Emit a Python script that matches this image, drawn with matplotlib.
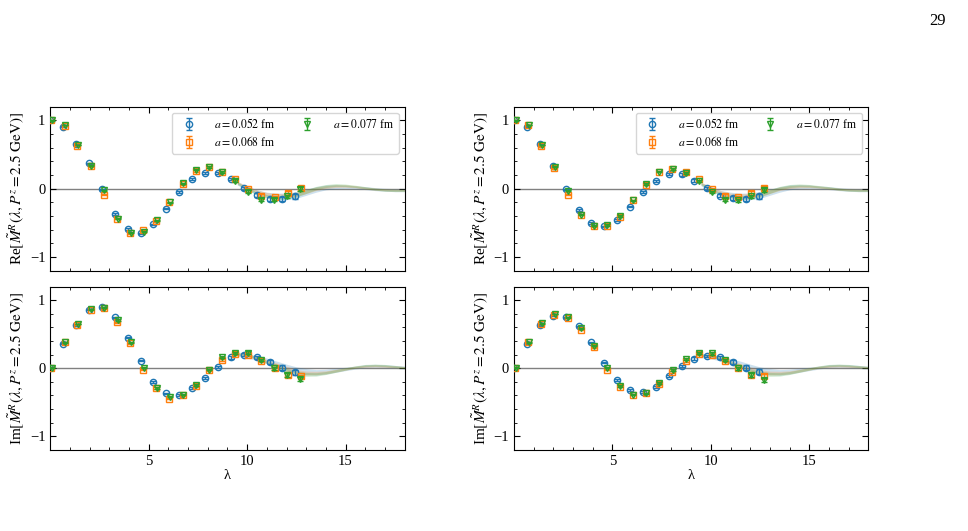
import numpy as np
import matplotlib
matplotlib.use("Agg")
import matplotlib.pyplot as plt

plt.rcParams['font.family'] = ['Liberation Serif', 'DejaVu Serif']
plt.rcParams['mathtext.fontset'] = 'stix'

# lattice spacings / legend labels
labels = [r'$a = 0.052$ fm', r'$a = 0.068$ fm', r'$a = 0.077$ fm']
colors = ['#1f77b4', '#ff7f0e', '#2ca02c']
markers = ['o', 's', 'v']

# lambda positions of each ensemble
lam_052 = [0.0, 0.66, 1.31, 1.97, 2.62, 3.28, 3.93, 4.59, 5.24, 5.9,
           6.55, 7.21, 7.86, 8.52, 9.17, 9.83, 10.48, 11.14, 11.79, 12.45]
lam_068 = [0.05, 0.72, 1.38, 2.05, 2.72, 3.39, 4.05, 4.72, 5.39, 6.05,
           6.72, 7.39, 8.05, 8.72, 9.39, 10.06, 10.72, 11.39, 12.06, 12.72]
lam_077 = [0.1, 0.76, 1.43, 2.09, 2.75, 3.42, 4.08, 4.74, 5.4, 6.07,
           6.73, 7.39, 8.06, 8.72, 9.38, 10.05, 10.71, 11.37, 12.03, 12.7]

# errors
err_052 = [0.003, 0.005, 0.006, 0.007, 0.008, 0.009, 0.01, 0.01, 0.011, 0.012,
           0.013, 0.014, 0.015, 0.017, 0.019, 0.021, 0.024, 0.028, 0.032, 0.038]
err_068 = [0.002, 0.004, 0.005, 0.006, 0.007, 0.008, 0.008, 0.009, 0.01, 0.01,
           0.011, 0.012, 0.013, 0.014, 0.015, 0.017, 0.019, 0.021, 0.024, 0.027]
err_077 = [0.002, 0.004, 0.005, 0.006, 0.007, 0.008, 0.008, 0.009, 0.01, 0.01,
           0.011, 0.012, 0.013, 0.014, 0.016, 0.018, 0.02, 0.022, 0.025, 0.028]

# left column, real part
re_L_052 = [1.0, 0.91, 0.66, 0.37, -0.01, -0.37, -0.59, -0.65, -0.52, -0.29,
            -0.05, 0.14, 0.235, 0.23, 0.14, 0.01, -0.09, -0.15, -0.15, -0.11]
re_L_068 = [1.0, 0.92, 0.63, 0.33, -0.09, -0.44, -0.65, -0.61, -0.47, -0.2,
            0.07, 0.26, 0.32, 0.25, 0.14, 0.0, -0.1, -0.12, -0.06, 0.01]
re_L_077 = [1.0, 0.93, 0.64, 0.34, -0.02, -0.44, -0.64, -0.63, -0.46, -0.2,
            0.08, 0.28, 0.32, 0.25, 0.12, -0.04, -0.16, -0.16, -0.11, 0.0]
# left column, imaginary part
im_L_052 = [0.0, 0.36, 0.63, 0.86, 0.9, 0.75, 0.45, 0.11, -0.2, -0.37,
            -0.39, -0.29, -0.14, 0.02, 0.16, 0.2, 0.16, 0.09, 0.01, -0.06]
im_L_068 = [0.0, 0.38, 0.64, 0.86, 0.88, 0.68, 0.37, -0.02, -0.29, -0.45,
            -0.4, -0.26, -0.03, 0.12, 0.21, 0.2, 0.11, 0.0, -0.1, -0.12]
im_L_077 = [0.01, 0.38, 0.65, 0.87, 0.89, 0.71, 0.38, 0.01, -0.29, -0.42,
            -0.39, -0.25, -0.02, 0.16, 0.23, 0.23, 0.12, 0.0, -0.1, -0.16]
# right column, real part
re_R_052 = [1.0, 0.91, 0.66, 0.33, -0.01, -0.31, -0.5, -0.55, -0.46, -0.26,
            -0.05, 0.12, 0.21, 0.21, 0.12, 0.01, -0.1, -0.13, -0.15, -0.11]
re_R_068 = [1.0, 0.93, 0.62, 0.3, -0.09, -0.38, -0.55, -0.54, -0.41, -0.17,
            0.06, 0.25, 0.29, 0.25, 0.14, 0.0, -0.1, -0.12, -0.06, 0.01]
re_R_077 = [1.0, 0.93, 0.64, 0.32, -0.03, -0.38, -0.54, -0.53, -0.4, -0.17,
            0.07, 0.25, 0.29, 0.23, 0.11, -0.05, -0.16, -0.17, -0.11, -0.02]
# right column, imaginary part
im_R_052 = [0.0, 0.36, 0.63, 0.77, 0.75, 0.62, 0.38, 0.08, -0.17, -0.32,
            -0.35, -0.27, -0.12, 0.03, 0.14, 0.18, 0.16, 0.09, 0.01, -0.05]
im_R_068 = [0.01, 0.38, 0.65, 0.79, 0.74, 0.57, 0.31, -0.02, -0.27, -0.39,
            -0.37, -0.23, -0.05, 0.11, 0.21, 0.2, 0.11, 0.0, -0.1, -0.11]
im_R_077 = [0.01, 0.38, 0.66, 0.8, 0.75, 0.59, 0.33, 0.01, -0.26, -0.39,
            -0.37, -0.22, -0.03, 0.14, 0.23, 0.22, 0.12, 0.0, -0.1, -0.17]

# extrapolated bands
lam_band = [9.5, 10.0, 10.5, 11.0, 11.5, 12.0, 12.5, 13.0, 13.5,
            14.0, 14.5, 15.0, 15.5, 16.0, 16.5, 17.0, 17.5, 18.0]
bw_052 = [0.025, 0.03, 0.035, 0.04, 0.045, 0.05, 0.05, 0.045, 0.04,
          0.035, 0.03, 0.025, 0.022, 0.022, 0.022, 0.022, 0.022, 0.022]
bw_068 = [0.018, 0.02, 0.022, 0.025, 0.028, 0.03, 0.03, 0.028, 0.025,
          0.022, 0.02, 0.018, 0.016, 0.016, 0.016, 0.016, 0.016, 0.016]
bw_077 = [0.018, 0.02, 0.022, 0.025, 0.028, 0.03, 0.03, 0.028, 0.025,
          0.022, 0.02, 0.018, 0.016, 0.016, 0.016, 0.016, 0.016, 0.016]

bre_L_052 = [0.08, 0.01, -0.05, -0.09, -0.11, -0.11, -0.09, -0.05, -0.01,
             0.02, 0.03, 0.03, 0.02, 0.01, -0.005, -0.015, -0.02, -0.02]
bre_L_068 = [0.09, 0.02, -0.04, -0.08, -0.1, -0.1, -0.08, -0.04, 0.0,
             0.025, 0.04, 0.04, 0.03, 0.01, -0.005, -0.015, -0.02, -0.02]
bre_L_077 = [0.08, 0.0, -0.07, -0.11, -0.13, -0.12, -0.09, -0.04, 0.01,
             0.04, 0.055, 0.05, 0.035, 0.015, -0.005, -0.02, -0.025, -0.025]
bim_L_052 = [0.2, 0.18, 0.15, 0.11, 0.06, 0.01, -0.03, -0.05, -0.06,
             -0.05, -0.03, -0.01, 0.01, 0.03, 0.035, 0.03, 0.02, 0.01]
bim_L_068 = [0.21, 0.19, 0.15, 0.1, 0.05, 0.0, -0.05, -0.07, -0.07,
             -0.06, -0.035, -0.01, 0.015, 0.03, 0.035, 0.03, 0.02, 0.01]
bim_L_077 = [0.22, 0.2, 0.15, 0.09, 0.03, -0.03, -0.07, -0.09, -0.09,
             -0.07, -0.04, -0.01, 0.02, 0.04, 0.045, 0.04, 0.025, 0.01]
bre_R_052 = [0.07, 0.0, -0.06, -0.09, -0.11, -0.11, -0.09, -0.05, -0.01,
             0.02, 0.03, 0.03, 0.02, 0.01, -0.005, -0.015, -0.02, -0.02]
bre_R_068 = [0.08, 0.01, -0.05, -0.09, -0.1, -0.1, -0.08, -0.04, 0.0,
             0.025, 0.035, 0.035, 0.025, 0.01, -0.005, -0.015, -0.02, -0.02]
bre_R_077 = [0.07, -0.01, -0.08, -0.12, -0.13, -0.12, -0.09, -0.04, 0.01,
             0.04, 0.05, 0.045, 0.03, 0.015, -0.005, -0.02, -0.025, -0.025]
bim_R_052 = [0.18, 0.17, 0.14, 0.1, 0.06, 0.01, -0.03, -0.05, -0.06,
             -0.05, -0.03, -0.01, 0.01, 0.03, 0.035, 0.03, 0.02, 0.01]
bim_R_068 = [0.19, 0.18, 0.14, 0.09, 0.04, -0.01, -0.05, -0.07, -0.07,
             -0.06, -0.035, -0.01, 0.015, 0.03, 0.035, 0.03, 0.02, 0.01]
bim_R_077 = [0.2, 0.19, 0.14, 0.08, 0.02, -0.04, -0.07, -0.09, -0.09,
             -0.07, -0.04, -0.01, 0.02, 0.04, 0.045, 0.04, 0.025, 0.01]

lams = [lam_052, lam_068, lam_077]
errs = [err_052, err_068, err_077]
bws = [bw_052, bw_068, bw_077]

panels = [
    # (axes rect, values, bands, ylabel prefix, is bottom row)
    ([0.052, 0.49, 0.366, 0.309], [re_L_052, re_L_068, re_L_077],
     [bre_L_052, bre_L_068, bre_L_077], 'Re', False),
    ([0.052, 0.153, 0.366, 0.307], [im_L_052, im_L_068, im_L_077],
     [bim_L_052, bim_L_068, bim_L_077], 'Im', True),
    ([0.531, 0.49, 0.366, 0.309], [re_R_052, re_R_068, re_R_077],
     [bre_R_052, bre_R_068, bre_R_077], 'Re', False),
    ([0.531, 0.153, 0.366, 0.307], [im_R_052, im_R_068, im_R_077],
     [bim_R_052, bim_R_068, bim_R_077], 'Im', True),
]

fig = plt.figure(figsize=(9.68, 5.31), dpi=100)

for rect, vals, bands, part, bottom in panels:
    ax = fig.add_axes(rect)
    ax.axhline(0, color='gray', lw=1.0, zorder=1)
    for i in range(3):
        c = np.array(bands[i])
        w = np.array(bws[i])
        ax.fill_between(lam_band, c - w, c + w, color=colors[i], alpha=0.22,
                        lw=0, zorder=2)
    for i in range(3):
        ax.errorbar(lams[i], vals[i], yerr=errs[i], fmt=markers[i],
                    color=colors[i], mfc='none', mec=colors[i], ms=4.5,
                    mew=1.0, elinewidth=1.0, capsize=2, capthick=1.0,
                    label=labels[i], zorder=3 + i)
    ax.set_xlim(0, 18)
    ax.set_ylim(-1.2, 1.2)
    ax.set_xticks([5, 10, 15])
    ax.set_yticks([-1, 0, 1])
    ax.set_xticks(np.arange(1, 18), minor=True)
    ax.set_yticks(np.arange(-1.2, 1.21, 0.2), minor=True)
    ax.tick_params(which='both', direction='in', top=True, right=True,
                   labelsize=10.5)
    ax.tick_params(which='major', length=4)
    ax.tick_params(which='minor', length=2)
    ax.set_ylabel(part + r'$[\tilde{M}^R(\lambda, P^z = 2.5\ \mathrm{GeV})]$',
                  fontsize=11, labelpad=2)
    if bottom:
        ax.set_xlabel('λ', fontsize=10.5, labelpad=1)
    else:
        ax.tick_params(labelbottom=False)
        ax.legend(loc='upper right', ncol=2, fontsize=8.5, columnspacing=1.6,
                  handletextpad=1.2, borderpad=0.4, labelspacing=0.3)

fig.text(0.977, 0.975, '29', ha='right', va='top', fontsize=12)

fig.savefig('out.png', dpi=100)
